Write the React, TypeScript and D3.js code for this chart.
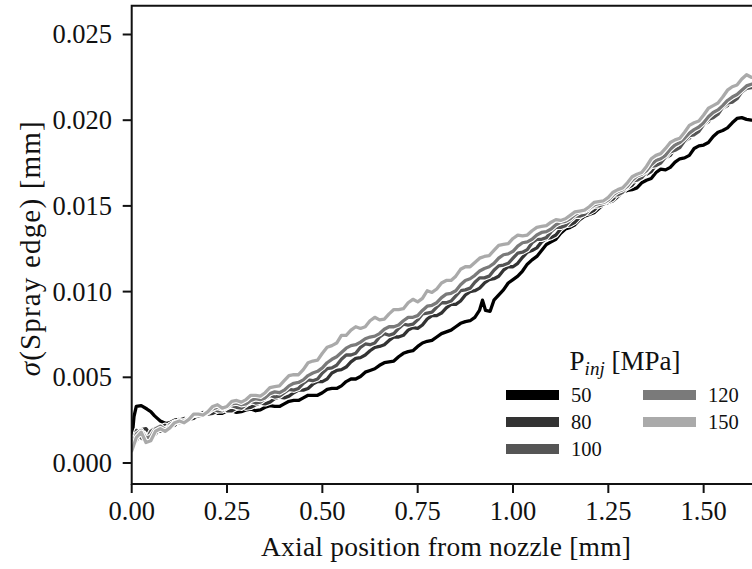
import React from "react";
import * as d3 from "d3";

// ---- data (sigma values in units of 1e-3 mm) ----
const gridX = [0, 0.025, 0.05, 0.075, 0.1, 0.125, 0.15, 0.175, 0.2, 0.225, 0.25, 0.275, 0.3, 0.325, 0.35, 0.375, 0.4, 0.425, 0.45, 0.475, 0.5, 0.525, 0.55, 0.575, 0.6, 0.625, 0.65, 0.675, 0.7, 0.725, 0.75, 0.775, 0.8, 0.825, 0.85, 0.875, 0.9, 0.925, 0.95, 0.975, 1.0, 1.025, 1.05, 1.075, 1.1, 1.125, 1.15, 1.175, 1.2, 1.225, 1.25, 1.275, 1.3, 1.325, 1.35, 1.375, 1.4, 1.425, 1.45, 1.475, 1.5, 1.525, 1.55, 1.575, 1.6, 1.625];
const gridMidX = [0.0125, 0.0375, 0.0625, 0.0875, 0.1125, 0.1375, 0.1625, 0.1875, 0.2125, 0.2375, 0.2625, 0.2875, 0.3125, 0.3375, 0.3625, 0.3875, 0.4125, 0.4375, 0.4625, 0.4875, 0.5125, 0.5375, 0.5625, 0.5875, 0.6125, 0.6375, 0.6625, 0.6875, 0.7125, 0.7375, 0.7625, 0.7875, 0.8125, 0.8375, 0.8625, 0.8875, 0.9125, 0.9375, 0.9625, 0.9875, 1.0125, 1.0375, 1.0625, 1.0875, 1.1125, 1.1375, 1.1625, 1.1875, 1.2125, 1.2375, 1.2625, 1.2875, 1.3125, 1.3375, 1.3625, 1.3875, 1.4125, 1.4375, 1.4625, 1.4875, 1.5125, 1.5375, 1.5625, 1.5875, 1.6125];

// 50 MPa (own sampling, includes the near-nozzle hump and the kink near 0.92 mm)
const x50 = [0, 0.006, 0.012, 0.025, 0.04, 0.05, 0.06, 0.075, 0.09, 0.1, 0.125, 0.15, 0.175, 0.2, 0.225, 0.25, 0.275, 0.3, 0.325, 0.35, 0.375, 0.4, 0.425, 0.45, 0.475, 0.5, 0.525, 0.55, 0.575, 0.6, 0.625, 0.65, 0.675, 0.7, 0.725, 0.75, 0.775, 0.8, 0.825, 0.85, 0.875, 0.9, 0.912, 0.92, 0.928, 0.94, 0.95, 0.975, 1.0, 1.025, 1.05, 1.075, 1.1, 1.125, 1.15, 1.175, 1.2, 1.225, 1.25, 1.275, 1.3, 1.325, 1.35, 1.375, 1.4, 1.425, 1.45, 1.475, 1.5, 1.525, 1.55, 1.575, 1.6, 1.625];
const y50 = [1.2, 2.7, 3.3, 3.35, 3.15, 3.0, 2.75, 2.45, 2.3, 2.35, 2.55, 2.65, 2.8, 2.95, 2.9, 3.05, 2.95, 3.1, 3.05, 3.25, 3.3, 3.45, 3.65, 3.8, 3.95, 4.1, 4.35, 4.5, 4.9, 5.05, 5.4, 5.7, 5.9, 6.2, 6.5, 6.8, 7.1, 7.35, 7.65, 7.95, 8.25, 8.5, 8.9, 9.5, 8.9, 8.85, 9.5, 10.1, 10.7, 11.2, 11.85, 12.4, 12.9, 13.4, 13.75, 14.2, 14.5, 14.85, 15.2, 15.55, 15.9, 16.05, 16.5, 16.95, 17.1, 17.55, 17.8, 18.35, 18.55, 19.05, 19.4, 19.85, 20.15, 20.0];
const x50m = [0.1125, 0.1375, 0.1625, 0.1875, 0.2125, 0.2375, 0.2625, 0.2875, 0.3125, 0.3375, 0.3625, 0.3875, 0.4125, 0.4375, 0.4625, 0.4875, 0.5125, 0.5375, 0.5625, 0.5875, 0.6125, 0.6375, 0.6625, 0.6875, 0.7125, 0.7375, 0.7625, 0.7875, 0.8125, 0.8375, 0.8625, 0.8875, 0.9875, 1.0125, 1.0375, 1.0625, 1.0875, 1.1125, 1.1375, 1.1625, 1.1875, 1.2125, 1.2375, 1.2625, 1.2875, 1.3125, 1.3375, 1.3625, 1.3875, 1.4125, 1.4375, 1.4625, 1.4875, 1.5125, 1.5375, 1.5625, 1.5875, 1.6125];
const y50m = [2.5, 2.55, 2.8, 2.8, 3.0, 2.9, 3.05, 3.0, 3.15, 3.1, 3.35, 3.3, 3.6, 3.65, 3.95, 3.95, 4.3, 4.35, 4.75, 4.9, 5.3, 5.5, 5.85, 5.95, 6.4, 6.55, 7.0, 7.15, 7.55, 7.75, 8.15, 8.3, 10.5, 10.9, 11.6, 12.05, 12.75, 13.05, 13.65, 13.9, 14.4, 14.6, 15.1, 15.3, 15.8, 15.95, 16.35, 16.6, 17.15, 17.25, 17.75, 17.95, 18.5, 18.7, 19.3, 19.55, 20.1, 20.05];

const y80 = [1.1, 1.95, 1.65, 2.05, 2.15, 2.5, 2.55, 2.8, 2.85, 3.05, 3.05, 3.2, 3.2, 3.4, 3.45, 3.75, 3.8, 4.1, 4.25, 4.6, 4.75, 5.25, 5.45, 5.9, 6.15, 6.55, 6.8, 7.15, 7.35, 7.75, 7.85, 8.4, 8.6, 9.05, 9.25, 9.8, 10.05, 10.5, 10.75, 11.25, 11.45, 12.0, 12.4, 12.9, 13.15, 13.65, 13.9, 14.35, 14.6, 15.05, 15.25, 15.75, 16.05, 16.55, 16.85, 17.4, 17.8, 18.35, 18.75, 19.35, 19.75, 20.35, 20.7, 21.25, 21.65, 22.0];
const m80 = [1.3, 2.0, 1.7, 2.2, 2.2, 2.6, 2.6, 2.95, 2.9, 3.15, 3.05, 3.3, 3.25, 3.5, 3.55, 3.85, 3.9, 4.25, 4.35, 4.75, 4.9, 5.4, 5.6, 6.1, 6.3, 6.75, 6.9, 7.35, 7.45, 7.9, 8.05, 8.6, 8.75, 9.25, 9.45, 10.0, 10.2, 10.7, 10.9, 11.45, 11.65, 12.3, 12.55, 13.1, 13.3, 13.85, 14.05, 14.55, 14.75, 15.25, 15.4, 15.95, 16.2, 16.8, 17.0, 17.7, 17.95, 18.65, 18.95, 19.65, 19.9, 20.6, 20.85, 21.55, 21.8];

const y100 = [1.0, 1.45, 1.85, 1.85, 2.25, 2.35, 2.65, 2.75, 3.0, 3.05, 3.25, 3.25, 3.4, 3.5, 3.75, 3.85, 4.1, 4.25, 4.65, 4.8, 5.25, 5.55, 6.05, 6.3, 6.75, 6.9, 7.35, 7.45, 7.85, 8.05, 8.35, 8.75, 9.1, 9.35, 9.75, 10.1, 10.55, 10.8, 11.25, 11.55, 11.95, 12.3, 12.85, 13.05, 13.5, 13.75, 14.15, 14.4, 14.8, 15.0, 15.4, 15.65, 16.15, 16.5, 17.0, 17.35, 17.85, 18.25, 18.8, 19.15, 19.75, 20.15, 20.75, 21.05, 21.65, 21.9];
const m100 = [1.9, 1.3, 2.05, 1.9, 2.4, 2.4, 2.8, 2.8, 3.15, 3.05, 3.35, 3.2, 3.6, 3.55, 3.95, 3.9, 4.3, 4.35, 4.85, 4.9, 5.5, 5.7, 6.3, 6.4, 6.95, 7.0, 7.55, 7.55, 8.1, 8.1, 8.7, 8.8, 9.35, 9.45, 10.05, 10.2, 10.8, 10.9, 11.5, 11.65, 12.25, 12.45, 13.05, 13.15, 13.75, 13.85, 14.4, 14.5, 15.0, 15.1, 15.65, 15.8, 16.45, 16.65, 17.3, 17.5, 18.15, 18.4, 19.1, 19.35, 20.05, 20.35, 21.0, 21.25, 21.85];

const y120 = [0.9, 1.9, 1.55, 2.15, 2.1, 2.45, 2.6, 2.85, 2.95, 3.25, 3.25, 3.5, 3.45, 3.75, 3.8, 4.15, 4.25, 4.65, 4.85, 5.25, 5.55, 6.05, 6.45, 6.85, 7.05, 7.35, 7.55, 7.95, 8.05, 8.5, 8.6, 9.15, 9.35, 9.85, 10.05, 10.65, 10.95, 11.35, 11.65, 12.15, 12.35, 12.85, 13.05, 13.45, 13.65, 14.05, 14.25, 14.65, 14.85, 15.15, 15.35, 15.85, 16.15, 16.75, 17.05, 17.65, 17.95, 18.55, 18.95, 19.45, 19.85, 20.45, 20.85, 21.35, 21.75, 22.1];
const m120 = [1.7, 1.45, 2.0, 1.95, 2.35, 2.45, 2.8, 2.8, 3.15, 3.15, 3.45, 3.4, 3.65, 3.7, 4.05, 4.1, 4.5, 4.7, 5.1, 5.35, 5.85, 6.2, 6.7, 6.9, 7.25, 7.4, 7.8, 7.95, 8.3, 8.5, 8.9, 9.2, 9.65, 9.9, 10.4, 10.75, 11.2, 11.45, 11.95, 12.2, 12.65, 12.9, 13.3, 13.5, 13.9, 14.1, 14.5, 14.7, 15.05, 15.2, 15.65, 15.95, 16.5, 16.85, 17.4, 17.75, 18.3, 18.7, 19.25, 19.6, 20.2, 20.6, 21.15, 21.5, 22.0];

const y150 = [0.7, 1.8, 1.3, 2.0, 2.05, 2.45, 2.55, 2.85, 3.0, 3.4, 3.3, 3.65, 3.7, 3.95, 4.1, 4.45, 4.8, 5.15, 5.45, 5.95, 6.4, 6.85, 7.45, 7.75, 7.85, 8.3, 8.35, 8.7, 8.95, 9.35, 9.4, 10.05, 10.15, 10.65, 10.9, 11.45, 11.7, 12.05, 12.4, 12.75, 13.1, 13.25, 13.55, 13.8, 14.05, 14.15, 14.45, 14.7, 14.95, 15.25, 15.5, 15.95, 16.35, 16.85, 17.3, 17.95, 18.35, 18.85, 19.3, 19.85, 20.3, 20.85, 21.35, 21.95, 22.4, 22.5];
const m150 = [1.5, 1.2, 1.85, 1.85, 2.35, 2.35, 2.85, 2.8, 3.3, 3.2, 3.6, 3.55, 3.95, 3.9, 4.4, 4.5, 5.1, 5.15, 5.85, 6.0, 6.75, 7.0, 7.45, 7.95, 7.95, 8.5, 8.4, 8.95, 9.0, 9.55, 9.6, 9.95, 10.5, 10.65, 11.3, 11.45, 11.95, 12.1, 12.7, 12.8, 13.3, 13.3, 13.75, 13.85, 14.2, 14.25, 14.65, 14.75, 15.2, 15.3, 15.8, 16.05, 16.7, 16.95, 17.75, 18.05, 18.7, 18.95, 19.7, 19.95, 20.7, 21.0, 21.75, 22.05, 22.65];

const seriesLabels = ["50", "80", "100", "120", "150"];
const seriesColors = ["#000000", "#333333", "#555555", "#7a7a7a", "#aaaaaa"];
const seriesMainX = [x50, gridX, gridX, gridX, gridX];
const seriesMainY = [y50, y80, y100, y120, y150];
const seriesMidX = [x50m, gridMidX, gridMidX, gridMidX, gridMidX];
const seriesMidY = [y50m, m80, m100, m120, m150];

const xTicks = [0, 0.25, 0.5, 0.75, 1.0, 1.25, 1.5];
const xTickLabels = ["0.00", "0.25", "0.50", "0.75", "1.00", "1.25", "1.50"];
const yTicks = [0, 5, 10, 15, 20, 25];
const yTickLabels = ["0.000", "0.005", "0.010", "0.015", "0.020", "0.025"];

const W = 752;
const H = 569;
const FONT = "'Liberation Serif', 'DejaVu Serif', serif";

function zipPts(xs: number[], ys: number[]): [number, number][] {
  const n = Math.min(xs.length, ys.length);
  const out: [number, number][] = [];
  for (let i = 0; i < n; i++) out.push([xs[i], ys[i]]);
  return out;
}

export default function App() {
  const left = 131.7;
  const top = 5.7;
  const bottom = 484;
  const x = d3.scaleLinear().domain([0, 1.65]).range([left, left + 1.65 * 381.3]);
  const y = d3.scaleLinear().domain([-1.225, 26.68]).range([bottom, top]);
  const right = x(1.65);

  const line = d3
    .line<[number, number]>()
    .x((d) => x(d[0]))
    .y((d) => y(d[1]));

  const paths = seriesMainY.map((ys, k) => {
    const pts = zipPts(seriesMainX[k], ys).concat(zipPts(seriesMidX[k], seriesMidY[k]));
    pts.sort((a, b) => a[0] - b[0]);
    return line(pts) || "";
  });

  // legend layout
  const legTitleX = 625;
  const legTitleY = 370;
  const rowY = [395, 422, 449];
  const colX = [506, 643];
  const legendPos = [
    [0, 0],
    [0, 1],
    [0, 2],
    [1, 0],
    [1, 1],
  ];

  return (
    <svg
      width={W}
      height={H}
      style={{ position: "absolute", left: 0, top: 0, background: "#fff" }}
      fontFamily={FONT}
    >
      <rect x={0} y={0} width={W} height={H} fill="#fff" />
      <defs>
        <clipPath id="plotclip">
          <rect x={left} y={top} width={right - left} height={bottom - top} />
        </clipPath>
      </defs>
      <g clipPath="url(#plotclip)">
        {paths.map((p, k) => (
          <g key={k}>
            <path d={p} fill="none" stroke="#fff" strokeWidth={5.5} strokeLinejoin="round" strokeLinecap="round" />
            <path d={p} fill="none" stroke={seriesColors[k]} strokeWidth={3.3} strokeLinejoin="round" strokeLinecap="round" />
          </g>
        ))}
      </g>
      {/* spines */}
      <path
        d={`M${left},${bottom} L${left},${top} L${right},${top} L${right},${bottom} Z`}
        fill="none"
        stroke="#111"
        strokeWidth={2}
      />
      {/* x ticks */}
      {xTicks.map((t, i) => (
        <g key={"xt" + i}>
          <line x1={x(t)} x2={x(t)} y1={bottom} y2={bottom + 9} stroke="#111" strokeWidth={2} />
          <text x={x(t)} y={519.5} textAnchor="middle" fontSize={26.5} fill="#111">
            {xTickLabels[i]}
          </text>
        </g>
      ))}
      {/* y ticks */}
      {yTicks.map((t, i) => (
        <g key={"yt" + i}>
          <line x1={left - 9} x2={left} y1={y(t)} y2={y(t)} stroke="#111" strokeWidth={2} />
          <text x={112} y={y(t) + 9} textAnchor="end" fontSize={26.5} fill="#111">
            {yTickLabels[i]}
          </text>
        </g>
      ))}
      {/* axis titles */}
      <text x={446} y={556} textAnchor="middle" fontSize={27.5} fill="#111" textLength={370} lengthAdjust="spacing">
        Axial position from nozzle [mm]
      </text>
      <text
        transform={`translate(40,${(top + bottom) / 2 + 4}) rotate(-90)`}
        textAnchor="middle"
        fontSize={29}
        fill="#111"
        textLength={255}
        lengthAdjust="spacing"
      >
        <tspan fontStyle="italic">σ</tspan>(Spray edge) [mm]
      </text>
      {/* legend */}
      <text x={legTitleX} y={legTitleY} textAnchor="middle" fontSize={27} fill="#111">
        P<tspan fontStyle="italic" fontSize={19} dy={5}>inj</tspan>
        <tspan dy={-5}>{"\u00a0"}[MPa]</tspan>
      </text>
      {seriesLabels.map((lab, k) => {
        const [c, r] = legendPos[k];
        const hx = colX[c];
        const hy = rowY[r];
        return (
          <g key={"lg" + k}>
            <rect x={hx} y={hy - 5} width={53} height={10} fill={seriesColors[k]} />
            <text x={hx + 65} y={hy + 7} fontSize={20.5} fill="#111">
              {lab}
            </text>
          </g>
        );
      })}
    </svg>
  );
}
